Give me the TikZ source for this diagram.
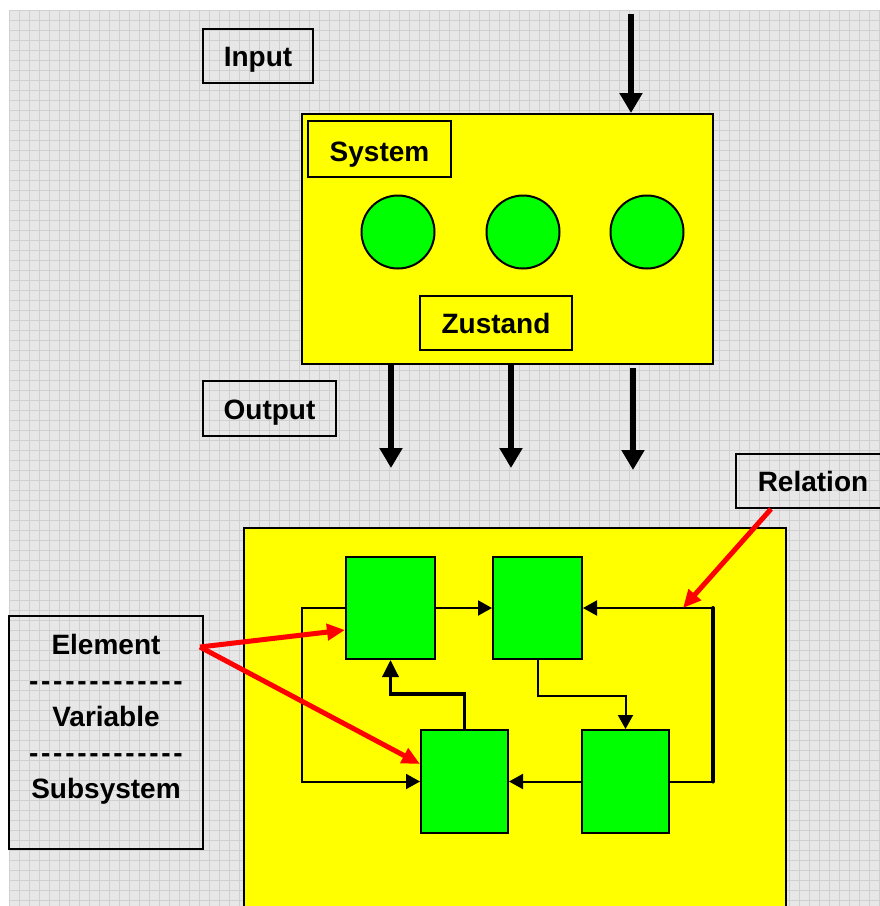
\documentclass[tikz,border=0pt]{standalone}
\usepackage{fontspec}
\setmainfont{Liberation Sans}
\usetikzlibrary{arrows.meta}
\definecolor{ylw}{RGB}{255,255,0}
\definecolor{grn}{RGB}{0,255,0}
\definecolor{rd}{RGB}{255,0,0}
\definecolor{bgc}{RGB}{231,231,231}
\definecolor{gridc}{RGB}{208,208,208}
\newcommand\dashrow{-\kern2.7pt-\kern2.7pt-\kern2.7pt-\kern2.7pt-\kern2.7pt-\kern2.7pt-\kern2.7pt-\kern2.7pt-\kern2.7pt-\kern2.7pt-\kern2.7pt-\kern2.7pt-}
\begin{document}
\begin{tikzpicture}[x=1pt,y=-1pt,
  lbl/.style={draw=black,line width=2pt,font=\fontsize{28}{34}\selectfont\bfseries,inner sep=0pt,text height=20pt,text depth=0pt},
  ybox/.style={draw=black,line width=2pt,fill=ylw,inner sep=0pt},
  gbox/.style={draw=black,line width=2pt,fill=grn,inner sep=0pt},
  gcirc/.style={circle,draw=black,line width=2pt,fill=grn,minimum size=73pt,inner sep=0pt},
  bar/.style={line width=6pt,-{Triangle[length=20pt,width=22pt]}},
  conn/.style={line width=2pt,-{Triangle[length=14pt,width=15pt]}},
  connb/.style={line width=3.5pt,-{Triangle[length=17pt,width=16pt]}},
  redarr/.style={draw=rd,line width=5pt,-{Triangle[length=18pt,width=16pt]}},
]
\clip (0,0) rectangle (880,906);
\fill[white] (0,0) rectangle (880,906);
\fill[bgc] (9,10) rectangle (880,906);
\foreach \i in {0,...,87} \draw[gridc,line width=1pt] ({9+10*\i},10) -- ({9+10*\i},906);
\foreach \j in {0,...,89} \draw[gridc,line width=1pt] (9,{10+10*\j}) -- (880,{10+10*\j});

% top system
\node[lbl,minimum width=110pt,minimum height=54pt] (input) at (258,56) {Input};
\node[ybox,minimum width=411pt,minimum height=250pt] (sys) at (507.5,239) {};
\node[lbl,fill=ylw,minimum width=143pt,minimum height=56pt] (systxt) at (379.5,149) {\raisebox{-2pt}{System}};
\node[gcirc] (c1) at (398,232) {};
\node[gcirc] (c2) at (523,232) {};
\node[gcirc] (c3) at (647,232) {};
\node[lbl,fill=ylw,minimum width=152pt,minimum height=54pt] (zust) at (496,323) {Zustand};
\node[lbl,minimum width=133pt,minimum height=55pt] (output) at (269.5,408.5) {\raisebox{-1pt}{Output}};

\coordinate (intop) at (631,14);
\draw[bar] (intop) -- (intop |- sys.north);
\coordinate (o1) at (391,468);
\coordinate (o2) at (511,468);
\coordinate (o3) at (633,470);
\draw[bar] (o1 |- sys.south) -- (o1);
\draw[bar] (o2 |- sys.south) -- (o2);
\draw[bar] ([yshift=-3pt]o3 |- sys.south) -- (o3);

% bottom system
\node[ybox,line width=2.5pt,minimum width=542pt,minimum height=392pt] (big) at (515,724) {};
\node[lbl,minimum width=154pt,minimum height=54pt] (rel) at (813,481) {Relation};

\node[gbox,minimum width=89pt,minimum height=102pt] (A) at (390.5,608) {};
\node[gbox,minimum width=89pt,minimum height=102pt] (B) at (537.5,608) {};
\node[gbox,minimum width=87pt,minimum height=103pt] (C) at (464.5,781.5) {};
\node[gbox,minimum width=87pt,minimum height=103pt] (D) at (625.5,781.5) {};

\draw[conn] (A.east) -- (B.west);
\draw[conn] (D.west) -- (C.east);
\coordinate (rbot) at (713,781.5);
\coordinate (rtop) at (713,608);
\draw[conn] (D.east) -- (rbot) -- (rtop) -- (B.east);
\draw[line width=4pt,line cap=round] (rbot) -- (rtop);
\draw[conn] (B.south) -- ++(0,36) -| (D.north);
\draw[connb] (C.north) -- ++(0,-35) -| (A.south);
\draw[conn] (A.west) -- ++(-43,0) |- (C.west);

% element box
\node[draw=black,line width=2pt,minimum width=194pt,minimum height=233pt,inner sep=0pt] (elem) at (106,732.5) {};
\node[font=\fontsize{28}{36}\selectfont\bfseries,align=center,inner sep=0pt] (elemtext) at (106,719) {Element\\\dashrow\\Variable\\\dashrow\\Subsystem};

\coordinate (es) at (200,647);
\coordinate (relt) at (683,608);
\draw[redarr] (es) -- ([yshift=-22pt]A.west);
\draw[redarr] (es) -- ([yshift=17.5pt]C.west);
\draw[redarr] ([xshift=-42pt]rel.south) -- (relt);
\end{tikzpicture}
\end{document}
